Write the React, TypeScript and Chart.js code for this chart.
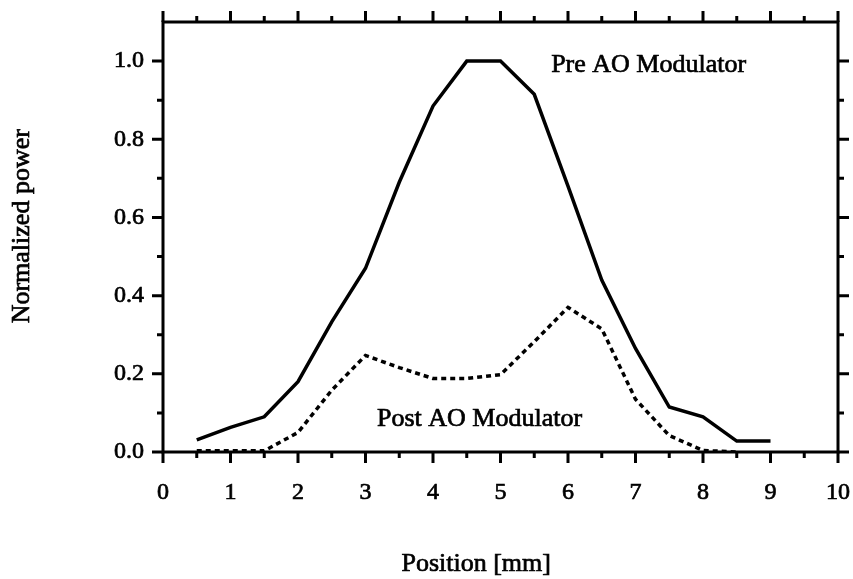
import React, { useEffect, useRef } from "react";
import { Chart, registerables } from "chart.js";

Chart.register(...registerables);

// ---- data ----
const preX = [0.5, 1, 1.5, 2, 2.5, 3, 3.5, 4, 4.5, 5, 5.5, 6, 6.5, 7, 7.5, 8, 8.5, 9];
const preY = [0.031, 0.063, 0.09, 0.18, 0.333, 0.47, 0.69, 0.885, 1.0, 1.0, 0.915, 0.68, 0.44, 0.265, 0.115, 0.09, 0.028, 0.028];
const postX = [0.5, 1, 1.5, 2, 2.5, 3, 3.5, 4, 4.5, 5, 5.5, 6, 6.5, 7, 7.5, 8, 8.5];
const postY = [0.003, 0.003, 0.003, 0.05, 0.158, 0.247, 0.216, 0.188, 0.188, 0.198, 0.282, 0.37, 0.315, 0.135, 0.042, 0.004, 0.0];
const xTickValues = [0, 1, 2, 3, 4, 5, 6, 7, 8, 9, 10];
const yTickValues = [0, 0.2, 0.4, 0.6, 0.8, 1.0];
const xTitle = "Position [mm]";
const yTitle = "Normalized power";
const preLabel = "Pre AO Modulator";
const postLabel = "Post AO Modulator";
const preLabelAt = [5.75, 0.972];
const postLabelAt = [3.17, 0.067];

const FONT = "'Liberation Serif', 'Times New Roman', serif";
const STROKE = 0.7;

function drawText(ctx: CanvasRenderingContext2D, text: string, x: number, y: number) {
  ctx.fillText(text, x, y);
  ctx.lineWidth = STROKE;
  ctx.strokeText(text, x, y);
}

const framePlugin = {
  id: "frameTicks",
  afterDraw(chart: any) {
    const { ctx, chartArea } = chart;
    const xs = chart.scales.x;
    const ys = chart.scales.y;
    const { left, right, top, bottom } = chartArea;
    ctx.save();
    ctx.strokeStyle = "#000";
    ctx.lineWidth = 3;
    ctx.lineCap = "butt";
    ctx.strokeRect(left, top, right - left, bottom - top);
    const major = 11;
    const minor = 6;
    ctx.beginPath();
    for (let i = 0; i <= 20; i++) {
      const v = i * 0.5;
      const px = xs.getPixelForValue(v);
      const len = i % 2 === 0 ? major : minor;
      ctx.moveTo(px, bottom);
      ctx.lineTo(px, bottom + len);
      ctx.moveTo(px, top);
      ctx.lineTo(px, top - len);
    }
    for (let i = 0; i <= 10; i++) {
      const v = i * 0.1;
      const py = ys.getPixelForValue(v);
      const len = i % 2 === 0 ? major : minor;
      ctx.moveTo(left, py);
      ctx.lineTo(left - len, py);
      ctx.moveTo(right, py);
      ctx.lineTo(right + len, py);
    }
    ctx.stroke();

    ctx.fillStyle = "#000";
    ctx.strokeStyle = "#000";
    // annotations
    ctx.font = `26px ${FONT}`;
    ctx.textAlign = "left";
    ctx.textBaseline = "alphabetic";
    drawText(ctx, preLabel, xs.getPixelForValue(preLabelAt[0]), ys.getPixelForValue(preLabelAt[1]));
    drawText(ctx, postLabel, xs.getPixelForValue(postLabelAt[0]), ys.getPixelForValue(postLabelAt[1]));

    // axis titles
    ctx.font = `26px ${FONT}`;
    ctx.textAlign = "center";
    ctx.textBaseline = "middle";
    drawText(ctx, xTitle, left + (right - left) * 0.464, bottom + 112);
    ctx.save();
    ctx.translate(22, top + (bottom - top) * 0.475);
    ctx.rotate(-Math.PI / 2);
    drawText(ctx, yTitle, 0, 0);
    ctx.restore();
    ctx.restore();
  },
};

const zeroPad = (s: any) => {
  s.paddingLeft = 0;
  s.paddingRight = 0;
  s.paddingTop = 0;
  s.paddingBottom = 0;
};

export default function App() {
  const ref = useRef<HTMLCanvasElement | null>(null);
  useEffect(() => {
    if (!ref.current) return;
    const chart = new Chart(ref.current, {
      type: "line",
      data: {
        datasets: [
          {
            label: preLabel,
            data: preX.map((x, i) => ({ x, y: preY[i] })),
            borderColor: "#000",
            borderWidth: 3.5,
            pointRadius: 0,
            tension: 0,
            fill: false,
          },
          {
            label: postLabel,
            data: postX.map((x, i) => ({ x, y: postY[i] })),
            borderColor: "#000",
            borderWidth: 3.5,
            borderDash: [5, 4],
            pointRadius: 0,
            tension: 0,
            fill: false,
          },
        ],
      },
      options: {
        animation: false,
        responsive: true,
        maintainAspectRatio: false,
        layout: { padding: { top: 22, right: 15, left: 0, bottom: 0 } },
        plugins: { legend: { display: false }, tooltip: { enabled: false } },
        scales: {
          x: {
            type: "linear",
            min: 0,
            max: 10,
            grid: { display: false, drawTicks: false },
            border: { display: false },
            afterBuildTicks: (s: any) => {
              s.ticks = xTickValues.map((v) => ({ value: v }));
            },
            ticks: {
              color: "#000",
              font: { family: FONT, size: 24 },
              padding: 26,
              maxRotation: 0,
              autoSkip: false,
              textStrokeColor: "#000",
              textStrokeWidth: STROKE,
              callback: (v: any) => String(v),
            },
            afterFit: (s: any) => {
              s.height = 127;
              zeroPad(s);
            },
          },
          y: {
            type: "linear",
            min: 0,
            max: 1.1,
            grid: { display: false, drawTicks: false },
            border: { display: false },
            afterBuildTicks: (s: any) => {
              s.ticks = yTickValues.map((v) => ({ value: v }));
            },
            ticks: {
              color: "#000",
              font: { family: FONT, size: 24 },
              padding: 19,
              autoSkip: false,
              textStrokeColor: "#000",
              textStrokeWidth: STROKE,
              callback: (v: any) => Number(v).toFixed(1),
            },
            afterFit: (s: any) => {
              s.width = 163;
              zeroPad(s);
            },
          },
        },
      },
      plugins: [framePlugin],
    });
    return () => chart.destroy();
  }, []);
  return (
    <div style={{ position: "absolute", left: 0, top: 0, width: 853, height: 579, background: "#fff" }}>
      <canvas ref={ref} />
    </div>
  );
}
